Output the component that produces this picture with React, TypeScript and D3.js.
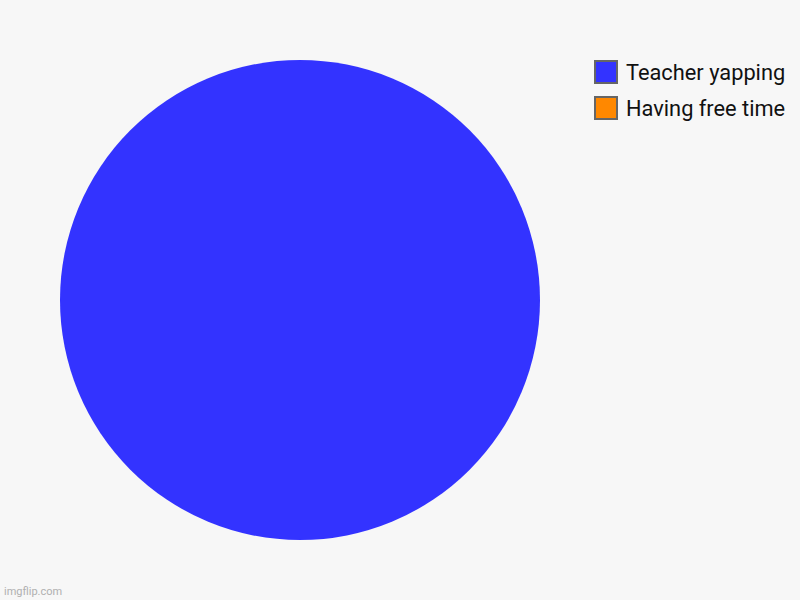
import { useEffect, useRef } from "react";
import * as d3 from "d3";

const categories = ["Teacher yapping", "Having free time"];
const values = [100, 0];
const colors = ["#3333ff", "#ff8800"];

type Slice = { category: string; value: number };

export default function App() {
  const ref = useRef<SVGSVGElement>(null);

  useEffect(() => {
    document.body.style.margin = "0";
    const width = 800;
    const height = 600;
    const svg = d3.select(ref.current);
    svg.selectAll("*").remove();
    svg.attr("width", width).attr("height", height);

    svg
      .append("rect")
      .attr("width", width)
      .attr("height", height)
      .attr("fill", "#f7f7f7");

    const data: Slice[] = categories.map((c, i) => ({ category: c, value: values[i] }));
    const colorScale = d3.scaleOrdinal<string>().domain(categories).range(colors);

    const radius = 240;
    const g = svg.append("g").attr("transform", "translate(300,300)");
    const pie = d3
      .pie<Slice>()
      .sort(null)
      .value((d) => d.value);
    const arc = d3.arc<d3.PieArcDatum<Slice>>().innerRadius(0).outerRadius(radius);

    g.selectAll("path")
      .data(pie(data).filter((d) => d.value > 0))
      .enter()
      .append("path")
      .attr("d", arc)
      .attr("fill", (d) => colorScale(d.data.category));

    // legend
    const legend = svg
      .selectAll("g.legend")
      .data(categories)
      .enter()
      .append("g")
      .attr("class", "legend")
      .attr("transform", (_d, i) => `translate(595,${61 + i * 36})`);
    legend
      .append("rect")
      .attr("width", 22)
      .attr("height", 22)
      .attr("fill", (d) => colorScale(d))
      .attr("stroke", "#666")
      .attr("stroke-width", 2);
    legend
      .append("text")
      .attr("x", 31)
      .attr("y", 19)
      .text((d) => d)
      .style("font-family", "Roboto, sans-serif")
      .style("font-size", "21.8px")
      .style("fill", "#111");

    svg
      .append("text")
      .attr("x", 4)
      .attr("y", 595)
      .text("imgflip.com")
      .style("font-family", "Roboto, sans-serif")
      .style("font-size", "11px")
      .style("fill", "#b0b0b0");
  }, []);

  return <svg ref={ref} style={{ display: "block" }}></svg>;
}
